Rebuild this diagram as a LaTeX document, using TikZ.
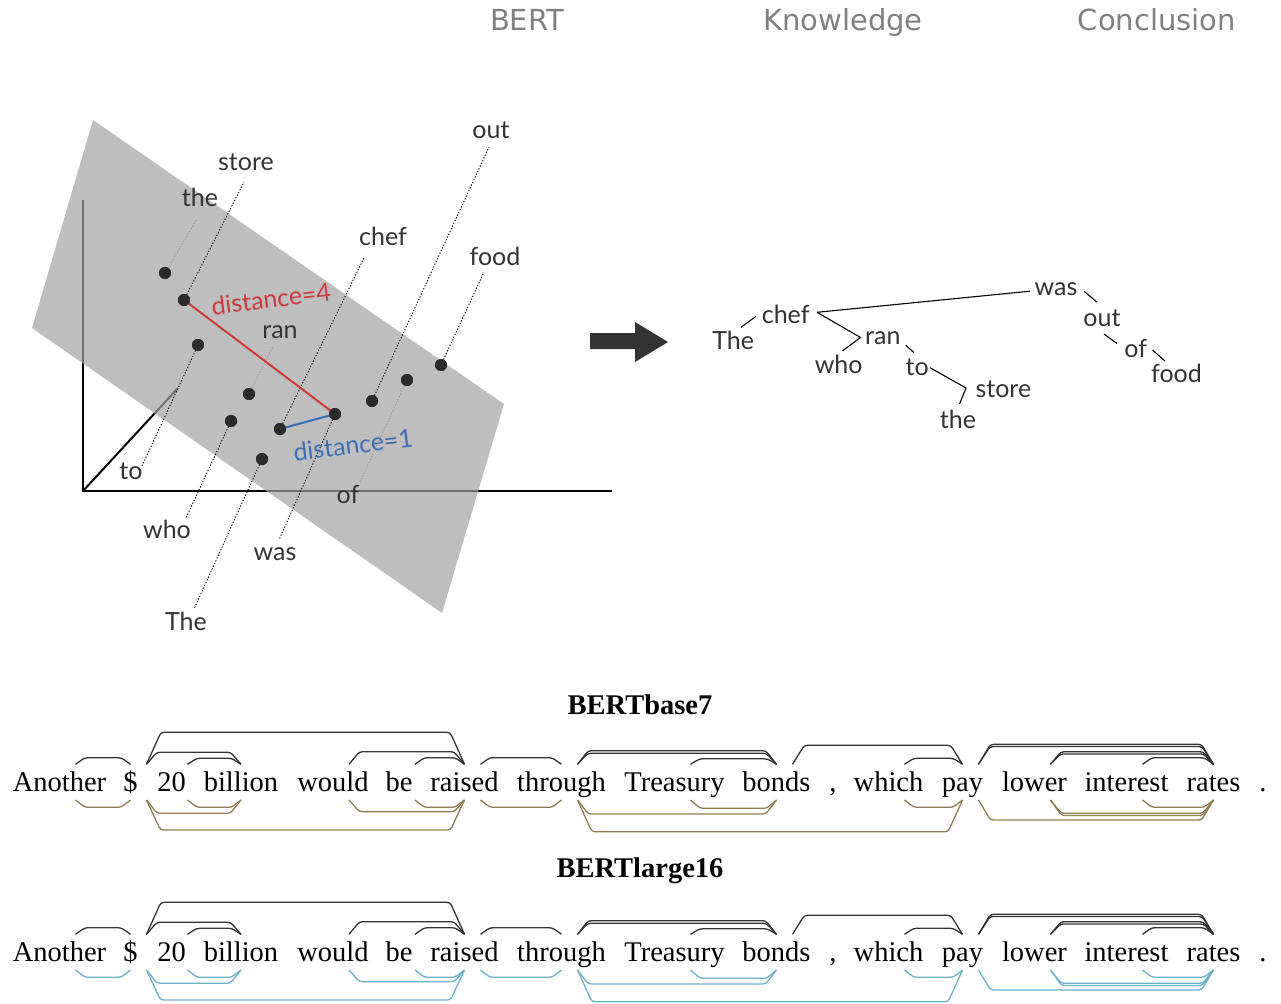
\documentclass[tikz,border=0pt]{standalone}
\usepackage{fontspec}
\setmainfont{Liberation Serif}
\newfontfamily\labelfont{Lato}
\newfontfamily\headfont{DejaVu Sans}
\usetikzlibrary{calc}

\definecolor{ink}{HTML}{333333}
\definecolor{headgray}{HTML}{808080}
\definecolor{planegray}{gray}{0.64}
\definecolor{distred}{HTML}{CC3B3B}
\definecolor{distblue}{HTML}{3C6FB6}
\definecolor{arcolive}{HTML}{8C7D55}
\definecolor{arcteal}{HTML}{6CB0C6}

\tikzset{
  header/.style={font=\headfont\fontsize{29}{34}\selectfont, text=headgray, anchor=base, inner sep=0},
  wlabel/.style={font=\labelfont\fontsize{25}{30}\selectfont, text=ink, anchor=base, inner sep=0},
  dot/.style={circle, fill=ink!85!black, inner sep=0, minimum size=12},
  leader/.style={line width=0.9pt, dash pattern=on 1.3pt off 1.7pt, draw=black},
  faintleader/.style={leader, draw=black!40},
  axis/.style={line width=2pt, draw=black},
  treeline/.style={line width=1.1pt, draw=black},
  word/.style={font=\fontsize{28.5}{34}\selectfont, anchor=base, inner sep=0},
  title/.style={font=\bfseries\fontsize{28.5}{34}\selectfont, anchor=base, inner sep=0},
  uparc/.style={line width=1.3pt, draw=black!80, rounded corners=3pt},
  downarc/.style={line width=1.3pt, rounded corners=3pt},
}

% one sentence row: nodes <row>-1 ... <row>-17 on baseline #2
\newcommand\sentence[2]{%
  \node[word] (#1-1)  at (59.5,#2)   {Another};
  \node[word] (#1-2)  at (130.5,#2)  {\$};
  \node[word] (#1-3)  at (171.5,#2)  {20};
  \node[word] (#1-4)  at (241,#2)    {billion};
  \node[word] (#1-5)  at (333,#2)    {would};
  \node[word] (#1-6)  at (399,#2)    {be};
  \node[word] (#1-7)  at (464.5,#2)  {raised};
  \node[word] (#1-8)  at (561.5,#2)  {through};
  \node[word] (#1-9)  at (674.5,#2)  {Treasury};
  \node[word] (#1-10) at (776.5,#2)  {bonds};
  \node[word] (#1-11) at (833,#2)    {,};
  \node[word] (#1-12) at (888.5,#2)  {which};
  \node[word] (#1-13) at (962.5,#2)  {pay};
  \node[word] (#1-14) at (1034.5,#2) {lower};
  \node[word] (#1-15) at (1126.5,#2) {interest};
  \node[word] (#1-16) at (1213.5,#2) {rates};
  \node[word] (#1-17) at (1263,#2)   {.};
}

% bracket arc above the words: row, dependent, head, height, style
\newcommand\uparc[5]{%
  \pgfmathsetmacro\dd{8+0.2*#4}
  \draw[#5] ($(#1-#2.base)+(16,-26.7)$) -- ++(\dd,-#4)
     -- ($(#1-#3.base)+(-\dd,-26.7-#4)$) -- ($(#1-#3.base)+(0,-26.7)$);
}
% bracket arc below the words
\newcommand\downarc[5]{%
  \pgfmathsetmacro\dd{8+0.2*#4}
  \draw[#5] ($(#1-#2.base)+(16,9)$) -- ++(\dd,#4)
     -- ($(#1-#3.base)+(-\dd,9+#4)$) -- ($(#1-#3.base)+(0,9)$);
}

% the parse drawn above a row (shared by both rows)
\newcommand\toparcs[1]{%
  \uparc{#1}{1}{2}{6.6}{uparc}
  \uparc{#1}{2}{7}{32}{uparc}
  \uparc{#1}{2}{4}{12}{uparc}
  \uparc{#1}{3}{4}{6}{uparc}
  \uparc{#1}{5}{7}{12.6}{uparc}
  \uparc{#1}{6}{7}{6.6}{uparc}
  \uparc{#1}{7}{8}{6.6}{uparc}
  \uparc{#1}{8}{10}{13.6}{uparc}
  \uparc{#1}{8}{10}{11}{uparc}
  \uparc{#1}{9}{10}{5.5}{uparc}
  \uparc{#1}{10}{13}{19}{uparc}
  \uparc{#1}{12}{13}{6}{uparc}
  \uparc{#1}{13}{16}{20}{uparc}
  \uparc{#1}{13}{16}{17.8}{uparc}
  \uparc{#1}{14}{16}{12.6}{uparc}
  \uparc{#1}{14}{16}{10.4}{uparc}
  \uparc{#1}{15}{16}{6.6}{uparc}
}
% the parse drawn below a row, in colour #2
\newcommand\bottomarcs[2]{%
  \downarc{#1}{1}{2}{7.3}{downarc,draw=#2}
  \downarc{#1}{2}{4}{13.3}{downarc,draw=#2}
  \downarc{#1}{3}{4}{7.3}{downarc,draw=#2}
  \downarc{#1}{2}{7}{30}{downarc,draw=#2}
  \downarc{#1}{5}{7}{11.7}{downarc,draw=#2}
  \downarc{#1}{6}{7}{7.3}{downarc,draw=#2}
  \downarc{#1}{7}{8}{7.3}{downarc,draw=#2}
  \downarc{#1}{8}{10}{14}{downarc,draw=#2}
  \downarc{#1}{8}{13}{31.7}{downarc,draw=#2}
  \downarc{#1}{9}{10}{8.3}{downarc,draw=#2}
  \downarc{#1}{12}{13}{7.3}{downarc,draw=#2}
  \downarc{#1}{13}{16}{20}{downarc,draw=#2}
  \downarc{#1}{14}{16}{13.3}{downarc,draw=#2}
  \downarc{#1}{14}{16}{15.5}{downarc,draw=#2}
  \downarc{#1}{15}{16}{7.3}{downarc,draw=#2}
}

\begin{document}
\begin{tikzpicture}[x=1pt,y=-1pt]
  \useasboundingbox (0,0) rectangle (1281,1003);
  \fill[white] (0,0) rectangle (1281,1003);

  % ---- section headers
  \node[header] (hbert) at (527,31)  {BERT};
  \node[header] (hknow) at (843,31)  {Knowledge};
  \node[header] (hconc) at (1157,31) {Conclusion};

  % ---- embedding space: axes, then the translucent plane over them
  \coordinate (origin) at (83,491);
  \coordinate (ztip) at (83,200);
  \coordinate (xtip) at (612,491);
  \coordinate (ytip) at (178,388);
  \draw[axis] (ztip) -- (origin) -- (xtip);
  \draw[axis] (origin) -- (ytip);
  \fill[planegray, opacity=0.7] (93,120) -- (504,404) -- (442,613) -- (32,328) -- cycle;

  % word vectors
  \node[dot] (pthe)   at (165,273) {};
  \node[dot] (pstore) at (184,300) {};
  \node[dot] (pto)    at (198,345) {};
  \node[dot] (pran)   at (249,394) {};
  \node[dot] (pwho)   at (231,421) {};
  \node[dot] (pchef)  at (280,429) {};
  \node[dot] (pThe)   at (262,459) {};
  \node[dot] (pwas)   at (335,414) {};
  \node[dot] (pout)   at (372,401) {};
  \node[dot] (pof)    at (407,380) {};
  \node[dot] (pfood)  at (441,365) {};

  % word labels
  \node[wlabel] (lout)   at (491,139)   {out};
  \node[wlabel] (lstore) at (246,170.5) {store};
  \node[wlabel] (lthe)   at (200,206)   {the};
  \node[wlabel] (lchef)  at (383,245)   {chef};
  \node[wlabel] (lfood)  at (495,265)   {food};
  \node[wlabel] (lran)   at (280,338)   {ran};
  \node[wlabel] (lto)    at (131,479)   {to};
  \node[wlabel] (lof)    at (348,503)   {of};
  \node[wlabel] (lwho)   at (167,538)   {who};
  \node[wlabel] (lwas)   at (275,560)   {was};
  \node[wlabel] (lThe)   at (186,630)   {The};

  % dotted leaders from each vector to its label
  \coordinate (ethe)   at (197,219);
  \coordinate (estore) at (244,182);
  \coordinate (echef)  at (364,258);
  \coordinate (eout)   at (489,147);
  \coordinate (efood)  at (484,272);
  \coordinate (eran)   at (273,346);
  \coordinate (eto)    at (142,466);
  \coordinate (ewho)   at (186,518);
  \coordinate (eThe)   at (194,609);
  \coordinate (eof)    at (360,482);
  \coordinate (ewas)   at (279,540);
  \draw[faintleader] (pthe.center) -- (ethe);
  \draw[leader] (pstore.center) -- (estore);
  \draw[leader] (pchef.center) -- (echef);
  \draw[leader] (pout.center) -- (eout);
  \draw[leader] (pfood.center) -- (efood);
  \draw[faintleader] (pran.center) -- (eran);
  \draw[leader] (pto.center) -- (eto);
  \draw[leader] (pwho.center) -- (ewho);
  \draw[leader] (pThe.center) -- (eThe);
  \draw[faintleader] (pof.center) -- (eof);
  \draw[leader] (pwas.center) -- (ewas);

  % tree distances
  \draw[distred, line width=2pt] (pstore.center) -- (pwas.center);
  \draw[distblue, line width=2pt] (pchef.center) -- (pwas.center);
  \node[wlabel, anchor=center, text=distred, rotate=7] (dfour) at (271,299) {distance=4};
  \node[wlabel, anchor=center, text=distblue, rotate=7] (done) at (353,445) {distance=1};

  % redraw dots on top of the lines
  \foreach \p in {pthe,pstore,pto,pran,pwho,pchef,pThe,pwas,pout,pof,pfood}
    \fill[ink!85!black] (\p.center) circle (6);

  % ---- block arrow
  \fill[ink] (590,333) -- (635,333) -- (635,322) -- (668,342) -- (635,362)
     -- (635,349) -- (590,349) -- cycle;

  % ---- parse tree
  \node[wlabel] (twas)   at (1056,295.5) {was};
  \node[wlabel] (tchef)  at (785.7,323)  {chef};
  \node[wlabel] (tThe)   at (733.2,349)  {The};
  \node[wlabel] (tran)   at (882.8,344)  {ran};
  \node[wlabel] (twho)   at (838.7,373)  {who};
  \node[wlabel] (tto)    at (917.2,375)  {to};
  \node[wlabel] (tstore) at (1003.4,397) {store};
  \node[wlabel] (tthe)   at (958,428)    {the};
  \node[wlabel] (tout)   at (1102,326)   {out};
  \node[wlabel] (tof)    at (1135.7,357) {of};
  \node[wlabel] (tfood)  at (1176.5,382.7) {food};

  \draw[treeline] ($(tThe.base)+(7.6,-21.6)$) -- ($(tchef.base)+(-29.7,-6.7)$);
  \draw[treeline] ($(tchef.base)+(31.3,-10.7)$) -- ($(twas.base)+(-26,-4.3)$);
  \draw[treeline] ($(tchef.base)+(31.3,-10.7)$) -- ($(tran.base)+(-22.3,-6.5)$)
     -- ($(twho.base)+(3.7,-22.1)$);
  \draw[treeline] ($(tran.base)+(22.9,1.2)$) -- ($(tto.base)+(-3.2,-22.4)$);
  \draw[treeline] ($(tto.base)+(12.8,-7.3)$) -- ($(tstore.base)+(-37.4,-9)$)
     -- ($(tthe.base)+(1.5,-24)$);
  \draw[treeline] ($(twas.base)+(28,-4.3)$) -- ($(tout.base)+(-5,-23.8)$);
  \draw[treeline] ($(tout.base)+(2,8)$) -- ($(tof.base)+(-18.7,-13.5)$);
  \draw[treeline] ($(tof.base)+(16.8,-7)$) -- ($(tfood.base)+(-11.5,-21.7)$);

  % ---- parsed sentences
  \node[title] (tbase) at (640,714.5) {BERTbase7};
  \sentence{a}{791}
  \toparcs{a}
  \bottomarcs{a}{arcolive}

  \node[title] (tlarge) at (640,877) {BERTlarge16};
  \sentence{b}{961}
  \toparcs{b}
  \bottomarcs{b}{arcteal}
\end{tikzpicture}
\end{document}
